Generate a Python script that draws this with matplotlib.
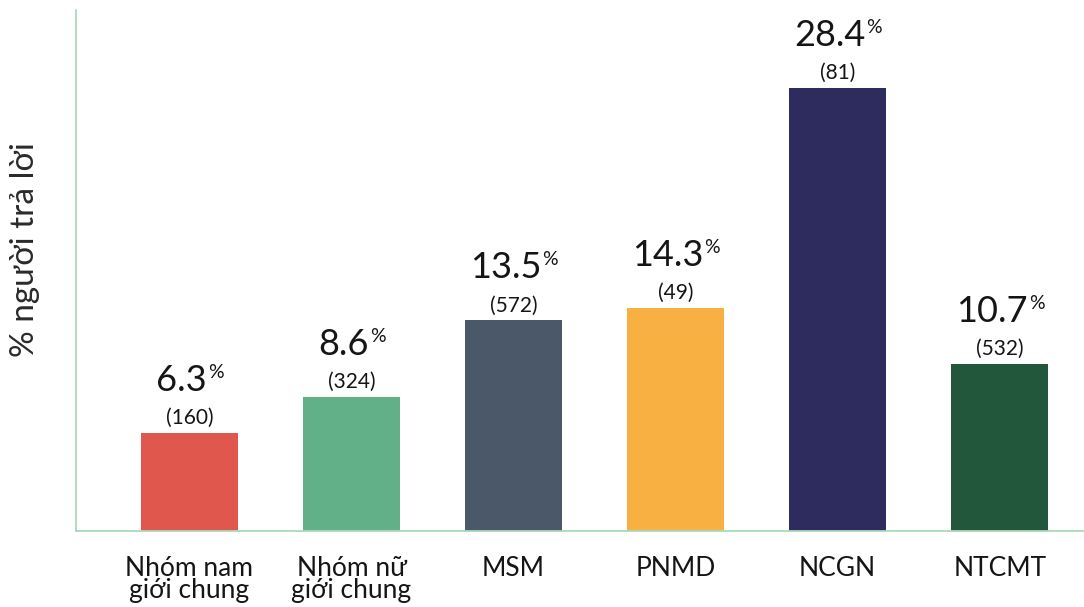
import matplotlib
matplotlib.use("Agg")
import matplotlib.pyplot as plt

plt.rcParams['font.family'] = ['Lato', 'DejaVu Sans']

# data
groups = ["Nhóm nam\ngiới chung", "Nhóm nữ\ngiới chung", "MSM", "PNMD", "NCGN", "NTCMT"]
percent = [6.3, 8.6, 13.5, 14.3, 28.4, 10.7]
counts = [160, 324, 572, 49, 81, 532]
colors = ["#e0584d", "#62b088", "#4b586a", "#f8b042", "#2e2c5e", "#22573c"]

spine_col = "#a9d9ba"
text_col = "#151515"

fig = plt.figure(figsize=(10.84, 6.07), dpi=100)
ax = fig.add_axes([76 / 1084, 76 / 607, 1 - 76 / 1084, (531 - 10) / 607])

x = range(len(groups))
ax.bar(x, percent, width=0.6, color=colors)

ax.set_xlim(-0.70, 5.52)
ax.set_ylim(0, 33.4)

for s in ["top", "right"]:
    ax.spines[s].set_visible(False)
for s in ["left", "bottom"]:
    ax.spines[s].set_color(spine_col)
    ax.spines[s].set_linewidth(1.3)

ax.set_yticks([])
ax.set_xticks(list(x))
ax.set_xticklabels(groups, fontsize=19, color=text_col, linespacing=0.85)
ax.tick_params(axis="x", length=0, pad=18)

ax.set_ylabel("% người trả lời", fontsize=24, color="#2a2a2a")
ax.yaxis.set_label_coords(-0.036, 0.54)

pct_labels = []
for i, (v, n) in enumerate(zip(percent, counts)):
    ax.annotate(f"({n})", xy=(i, v), xytext=(0, 9), textcoords="offset pixels",
                ha="center", va="baseline", fontsize=15, color=text_col)
    t = ax.annotate(f"{v:.1f}", xy=(i, v), xytext=(0, 42), textcoords="offset pixels",
                    ha="center", va="baseline", fontsize=26, color=text_col)
    p = ax.annotate("%", xy=(1, 1), xycoords=t, xytext=(1, 0), textcoords="offset pixels",
                    ha="left", va="top", fontsize=14, color=text_col)
    pct_labels.append((t, p))

# shift each number left so number + superscript % sit centred over the bar
fig.canvas.draw()
r = fig.canvas.get_renderer()
for t, p in pct_labels:
    w = p.get_window_extent(r).width
    t.xyann = (-w / 2, 42)

fig.savefig("out.png", dpi=100)
